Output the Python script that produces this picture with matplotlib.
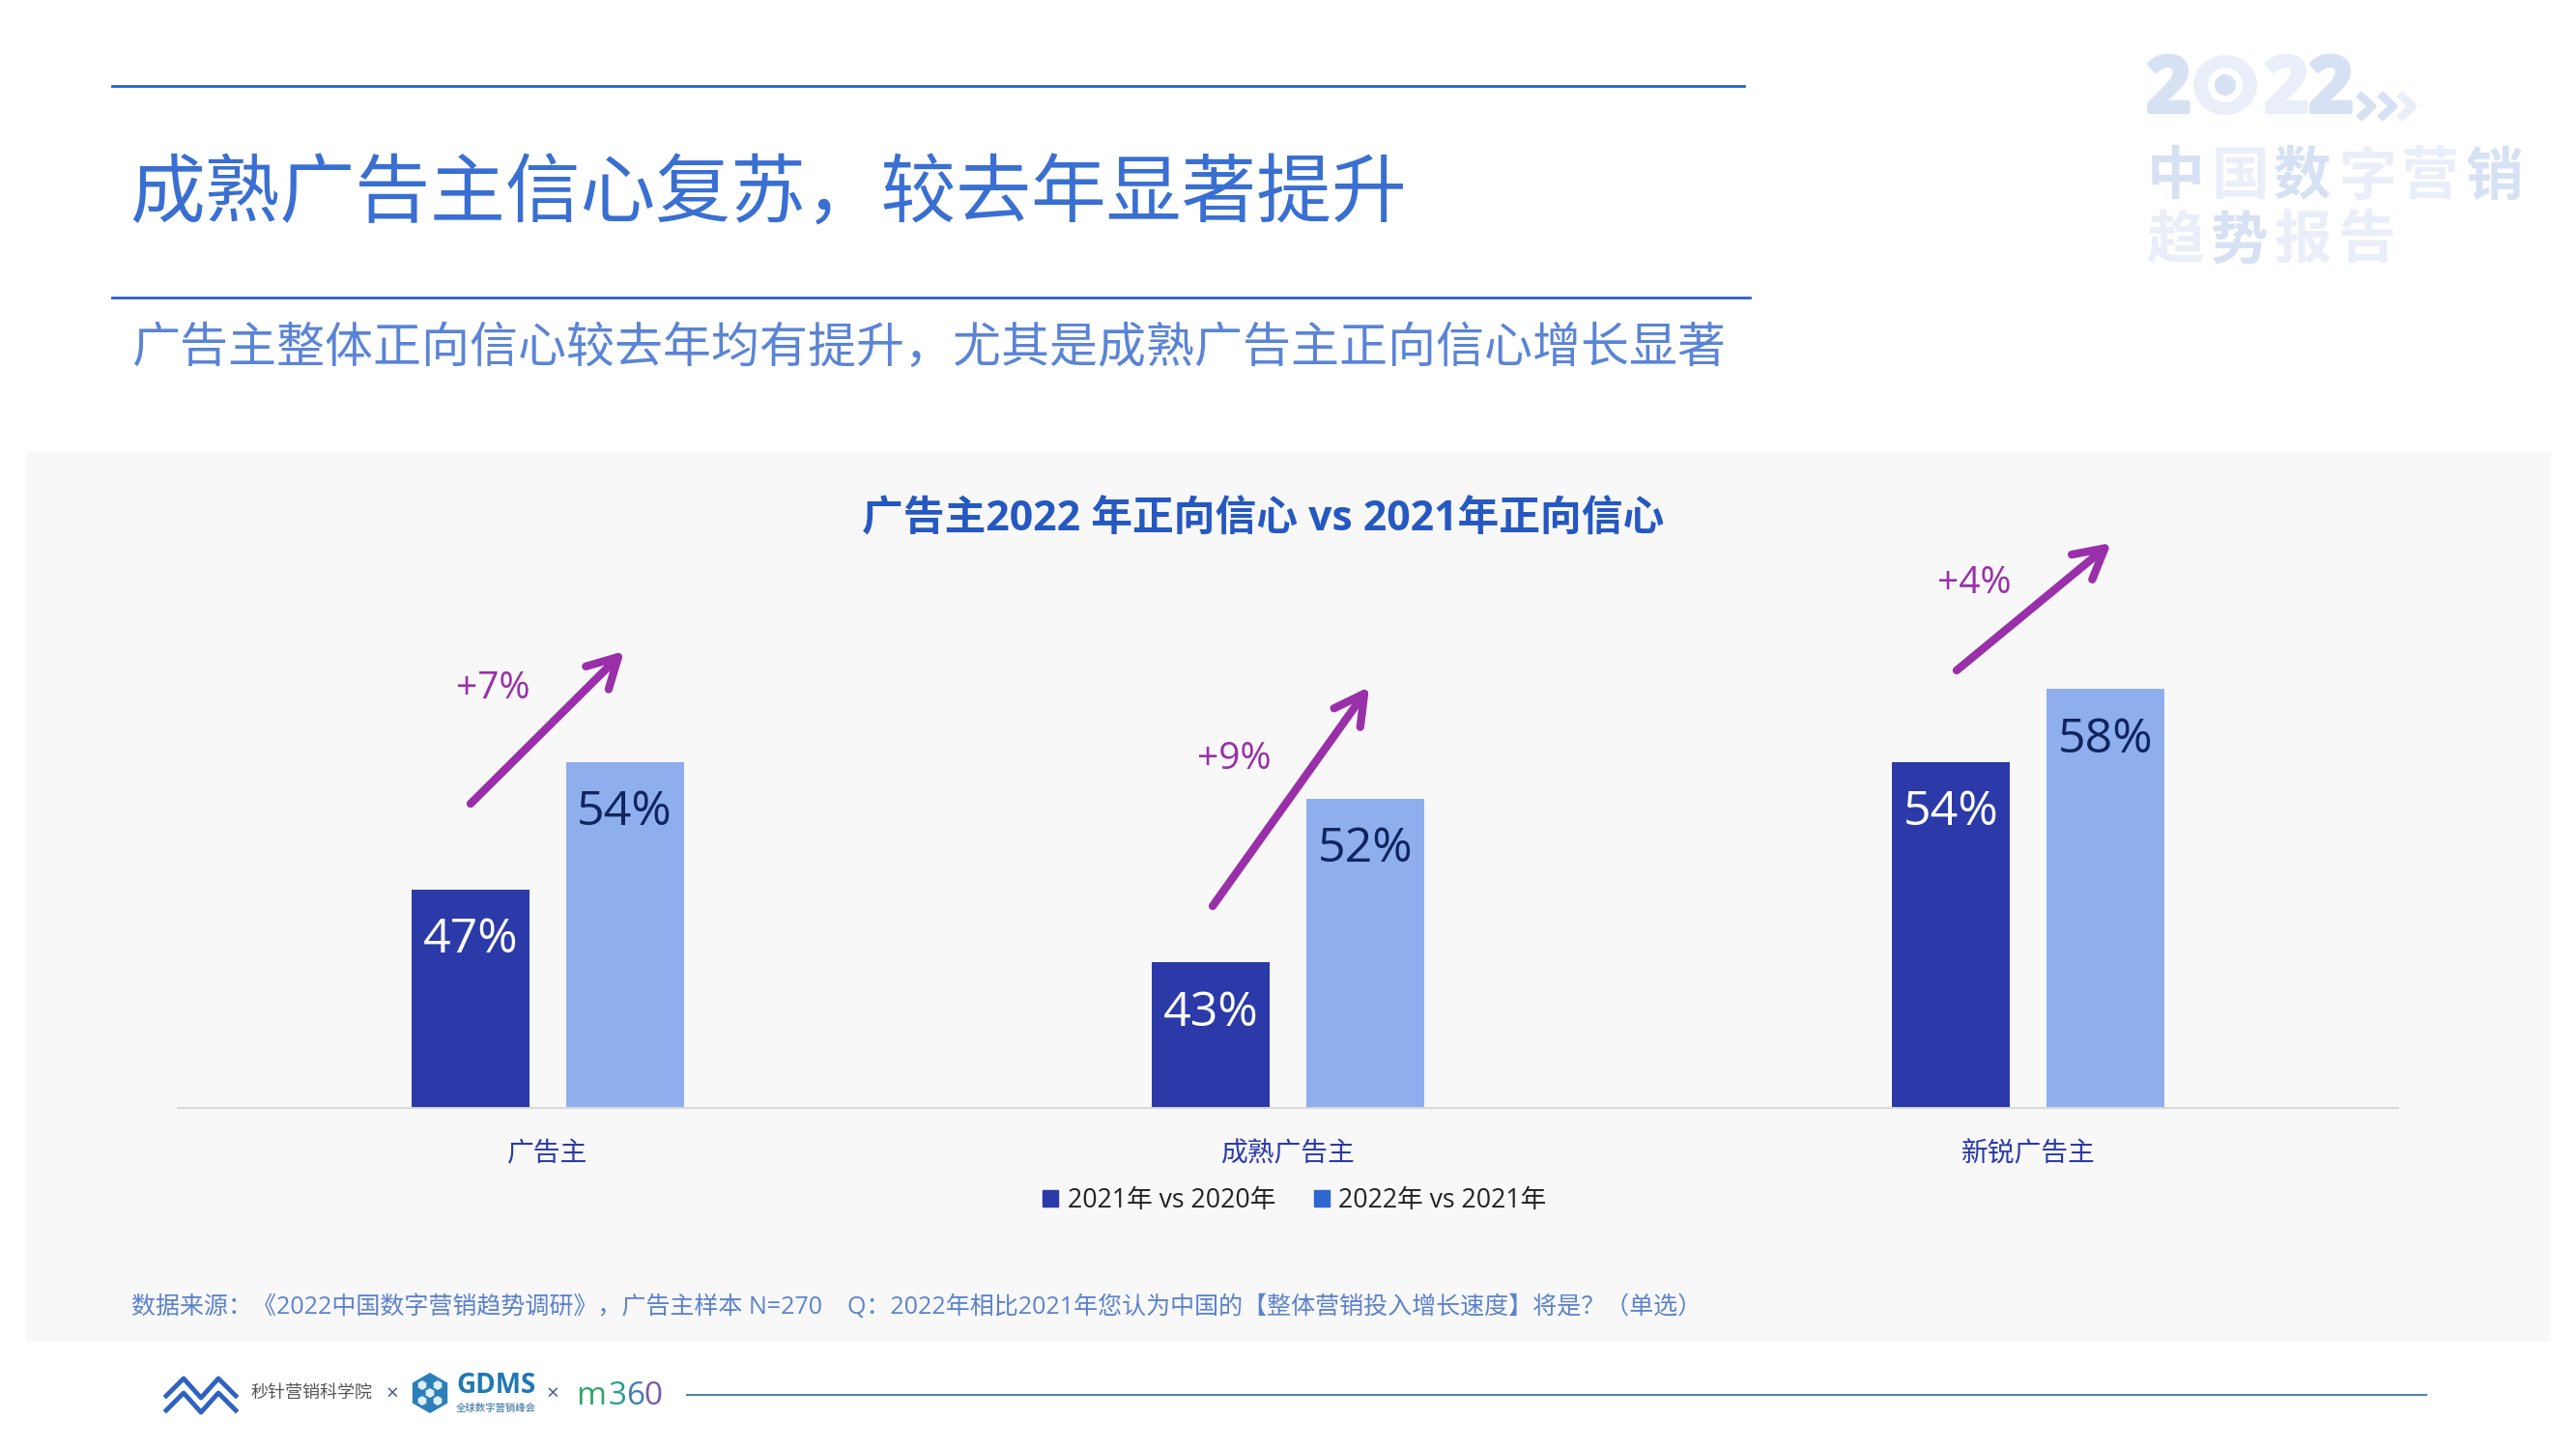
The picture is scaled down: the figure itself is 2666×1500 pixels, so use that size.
import matplotlib
matplotlib.use("Agg")
import matplotlib.pyplot as plt
import matplotlib.patheffects as pe
from matplotlib.patches import Patch, Rectangle, RegularPolygon, Circle, Ellipse

plt.rcParams['font.family'] = ['Open Sans', 'Noto Sans CJK SC', 'DejaVu Sans']

# data
categories = ['广告主', '成熟广告主', '新锐广告主']
series_names = ['2021年 vs 2020年', '2022年 vs 2021年']
values_prev = [47, 43, 54]
values_curr = [54, 52, 58]
deltas = ['+7%', '+9%', '+4%']

title = '成熟广告主信心复苏，较去年显著提升'
subtitle = '广告主整体正向信心较去年均有提升，尤其是成熟广告主正向信心增长显著'
chart_title = '广告主2022 年正向信心 vs 2021年正向信心'
source = ('数据来源：《2022中国数字营销趋势调研》，广告主样本 N=270    '
          'Q：2022年相比2021年您认为中国的【整体营销投入增长速度】将是？（单选）')

W, H = 2666, 1500
DARK = '#2B3AA8'
LIGHT = '#8FAEEE'
PURPLE = '#9A2FAA'

fig = plt.figure(figsize=(W / 100, H / 100), dpi=100, facecolor='white')

# page layer, in pixel coordinates
bg = fig.add_axes([0, 0, 1, 1], zorder=0)
bg.set_xlim(0, W)
bg.set_ylim(H, 0)
bg.axis('off')

bg.add_patch(Rectangle((27, 468), 2613, 921, color='#F8F8F9', lw=0))
bg.plot([116, 1805], [89, 89], color='#2E5BD0', lw=2)
bg.plot([116, 1811], [308, 308], color='#2E5BD0', lw=2)
bg.text(134, 204, title, fontsize=56, color='#3A6FD2', va='center', ha='left')
bg.text(136, 362, subtitle, fontsize=36, color='#5A84D6', va='center', ha='left')
bg.text(1307, 538, chart_title, fontsize=30.8, color='#2558C0', va='center', ha='center',
        fontweight='bold')
bg.text(136, 1353, source, fontsize=18, color='#5C82CC', va='center', ha='left')

# arrows and their labels
arrow_start = [(487, 832), (1255, 938), (2025, 694)]
arrow_end = [(646, 674), (1417, 711), (2185, 562)]
delta_pos = [(510, 713), (1277, 786), (2043, 604)]
for s, e, p, d in zip(arrow_start, arrow_end, delta_pos, deltas):
    bg.annotate('', xy=e, xytext=s,
                arrowprops=dict(arrowstyle='->,head_length=1.1,head_width=0.6', color=PURPLE,
                                lw=6, shrinkA=0, shrinkB=0, mutation_scale=20))
    bg.text(p[0], p[1], d, fontsize=28, color=PURPLE, ha='center', va='center')

# watermark
wm1, wm2 = '#D6E1F4', '#E9EEF8'
for x, c in [(2244, wm1), (2366, wm2), (2412, wm1)]:
    bg.text(x, 95, '2', fontsize=58, fontweight='bold', color=c, ha='center', va='center',
            path_effects=[pe.withStroke(linewidth=3, foreground=c)])
bg.add_patch(Ellipse((2303, 88), 66, 62, color=wm2, lw=0))
bg.add_patch(Circle((2303, 88), 18, color='white', lw=0))
bg.add_patch(Circle((2303, 88), 11, color=wm1, lw=0))
for x, c in [(2452, wm1), (2474, wm1), (2494, wm2)]:
    bg.plot([x - 8, x + 3, x - 8], [100, 110, 120], color=c, lw=6)
row1 = '中国数字营销'
row2 = '趋势报告'
row_x = [2252, 2318, 2383, 2450, 2515, 2582]
row_col = [wm1, wm2, wm1, wm2, wm2, wm1]
for ch, x, c in zip(row1, row_x, row_col):
    bg.text(x, 186, ch, fontsize=43, fontweight='bold', color=c, ha='center', va='center')
for ch, x, c in zip(row2, row_x, [wm2, wm1, wm2, wm2]):
    bg.text(x, 252, ch, fontsize=43, fontweight='bold', color=c, ha='center', va='center')

# footer logos
for dy in (0, 15):
    bg.plot([172, 190, 208, 226, 244], [1445 + dy, 1427 + dy, 1447 + dy, 1427 + dy, 1445 + dy],
            color='#2F62C0', lw=3.5)
bg.text(322, 1442, '秒针营销科学院', fontsize=13, color='#555555', ha='center', va='center')
bg.text(406, 1443, '×', fontsize=16, color='#44568A', ha='center', va='center')
bg.add_patch(RegularPolygon((445, 1442), 6, radius=21, color='#2C7FB8', lw=0))
for dx, dy in [(-8, -8), (8, -8), (0, 0), (-8, 8), (8, 8)]:
    bg.add_patch(RegularPolygon((445 + dx, 1442 + dy), 6, radius=5, color='#DDF0F8', lw=0))
bg.text(513, 1434, 'GDMS', fontsize=20, fontweight='bold', color='#1F78B4', ha='center', va='center')
bg.text(513, 1458, '全球数字营销峰会', fontsize=7.5, color='#2C6A9A', ha='center', va='center')
bg.text(572, 1443, '×', fontsize=16, color='#44568A', ha='center', va='center')
for ch, x, c in zip('m360', [612, 639, 658, 676], ['#2FA36B', '#2C9C9A', '#3C7CB8', '#7A5BA8']):
    bg.text(x, 1445, ch, fontsize=24, color=c, ha='center', va='center')
bg.plot([711, 2511], [1444, 1444], color='#4E86A8', lw=1.5)

# chart, bottom edge on the baseline, axis starts near 35%
ax = fig.add_axes([184 / W, 1 - 1147 / H, (2482 - 184) / W, (1147 - 470) / H], zorder=1)
ax.patch.set_alpha(0)
x = list(range(len(categories)))
off = 0.104
bw = 0.159
b1 = ax.bar([i - off for i in x], values_prev, bw, color=DARK)
b2 = ax.bar([i + off for i in x], values_curr, bw, color=LIGHT)
ax.set_xlim(-0.5, 2.5)
ax.set_ylim(35.02, 70.9)
for rects, vals, col in [(b1, values_prev, 'white'), (b2, values_curr, '#0F2560')]:
    for r, v in zip(rects, vals):
        ax.annotate(f'{v}%', (r.get_x() + r.get_width() / 2, v), xytext=(0, -38),
                    textcoords='offset points', ha='center', va='center', fontsize=36, color=col)
ax.set_yticks([])
ax.set_xticks(x)
ax.set_xticklabels(categories, fontsize=20, color=DARK)
ax.tick_params(axis='x', length=0, pad=25)
for s in ('top', 'left', 'right'):
    ax.spines[s].set_visible(False)
ax.spines['bottom'].set_color('#D9D9D9')
ax.spines['bottom'].set_linewidth(1.5)

handles = [Patch(color=DARK, label=series_names[0]), Patch(color='#2F66D0', label=series_names[1])]
fig.legend(handles=handles, ncol=2, loc='center', bbox_to_anchor=(1340 / W, 1 - 1243 / H),
           frameon=False, fontsize=19.2, labelcolor='#222222', handlelength=0.6, handleheight=0.6,
           handletextpad=0.35, columnspacing=1.5)

fig.savefig('out.png', dpi=100)
